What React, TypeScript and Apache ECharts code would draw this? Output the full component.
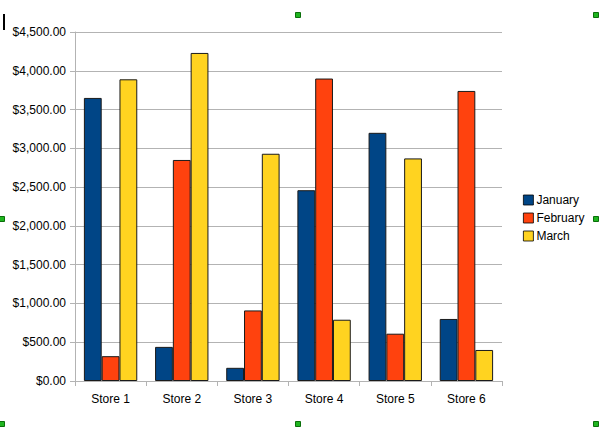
import React, { useEffect, useRef } from "react";
import * as echarts from "echarts";

const categories = ["Store 1", "Store 2", "Store 3", "Store 4", "Store 5", "Store 6"];
const january = [3650, 440, 170, 2460, 3200, 800];
const february = [320, 2850, 910, 3900, 610, 3740];
const march = [3890, 4230, 2930, 790, 2870, 400];
const seriesNames = ["January", "February", "March"];
const colors = ["#004586", "#ff420e", "#ffd320"];

const handles: [number, number][] = [
  [298, 15], [596, 15], [596, 219], [596, 424], [298, 424], [2, 424], [2, 219],
];

export default function App() {
  const ref = useRef<HTMLDivElement>(null);
  useEffect(() => {
    const chart = echarts.init(ref.current!, null, { renderer: "svg" });
    const data = [january, february, march];
    chart.setOption({
      animation: false,
      backgroundColor: "#ffffff",
      textStyle: { fontFamily: "Liberation Sans, Arial, sans-serif" },
      grid: { left: 75, right: 98, top: 32, bottom: 53 },
      legend: {
        orient: "vertical",
        left: 518,
        top: 189,
        itemWidth: 10,
        itemHeight: 10,
        itemGap: 6,
        icon: "rect",
        data: seriesNames,
        textStyle: { fontSize: 12, color: "#000", padding: [0, 0, 0, -2] },
        itemStyle: { borderColor: "#000", borderWidth: 0.8 },
      },
      xAxis: {
        type: "category",
        data: categories,
        axisLine: { lineStyle: { color: "#b3b3b3" } },
        axisTick: { show: true, length: 5, lineStyle: { color: "#b3b3b3" } },
        axisLabel: { color: "#000", fontSize: 12, margin: 12 },
      },
      yAxis: {
        type: "value",
        min: 0,
        max: 4500,
        interval: 500,
        axisLine: { show: true, lineStyle: { color: "#b3b3b3" } },
        axisTick: { show: true, length: 5, lineStyle: { color: "#b3b3b3" } },
        splitLine: { lineStyle: { color: "#b3b3b3" } },
        axisLabel: {
          color: "#000",
          fontSize: 12,
          margin: 9,
          formatter: (v: number) =>
            "$" + v.toLocaleString("en-US", { minimumFractionDigits: 2, maximumFractionDigits: 2 }),
        },
      },
      series: seriesNames.map((name, i) => ({
        name,
        type: "bar",
        data: data[i],
        barGap: "0%",
        barCategoryGap: "25%",
        itemStyle: { color: colors[i], borderColor: "#1a1a1a", borderWidth: 1 },
      })),
      graphic: [
        ...handles.map(([x, y]) => ({
          type: "rect",
          shape: { x: x - 2.5, y: y - 2.5, width: 5, height: 5 },
          style: { fill: "#1fb51f", stroke: "#0a6e0a", lineWidth: 1 },
        })),
        {
          type: "line",
          shape: { x1: 4, y1: 14, x2: 4, y2: 30 },
          style: { stroke: "#000", lineWidth: 2 },
        },
      ],
    });
    return () => chart.dispose();
  }, []);
  return (
    <div
      ref={ref}
      style={{ position: "fixed", left: 0, top: 0, width: 600, height: 434 }}
    />
  );
}
